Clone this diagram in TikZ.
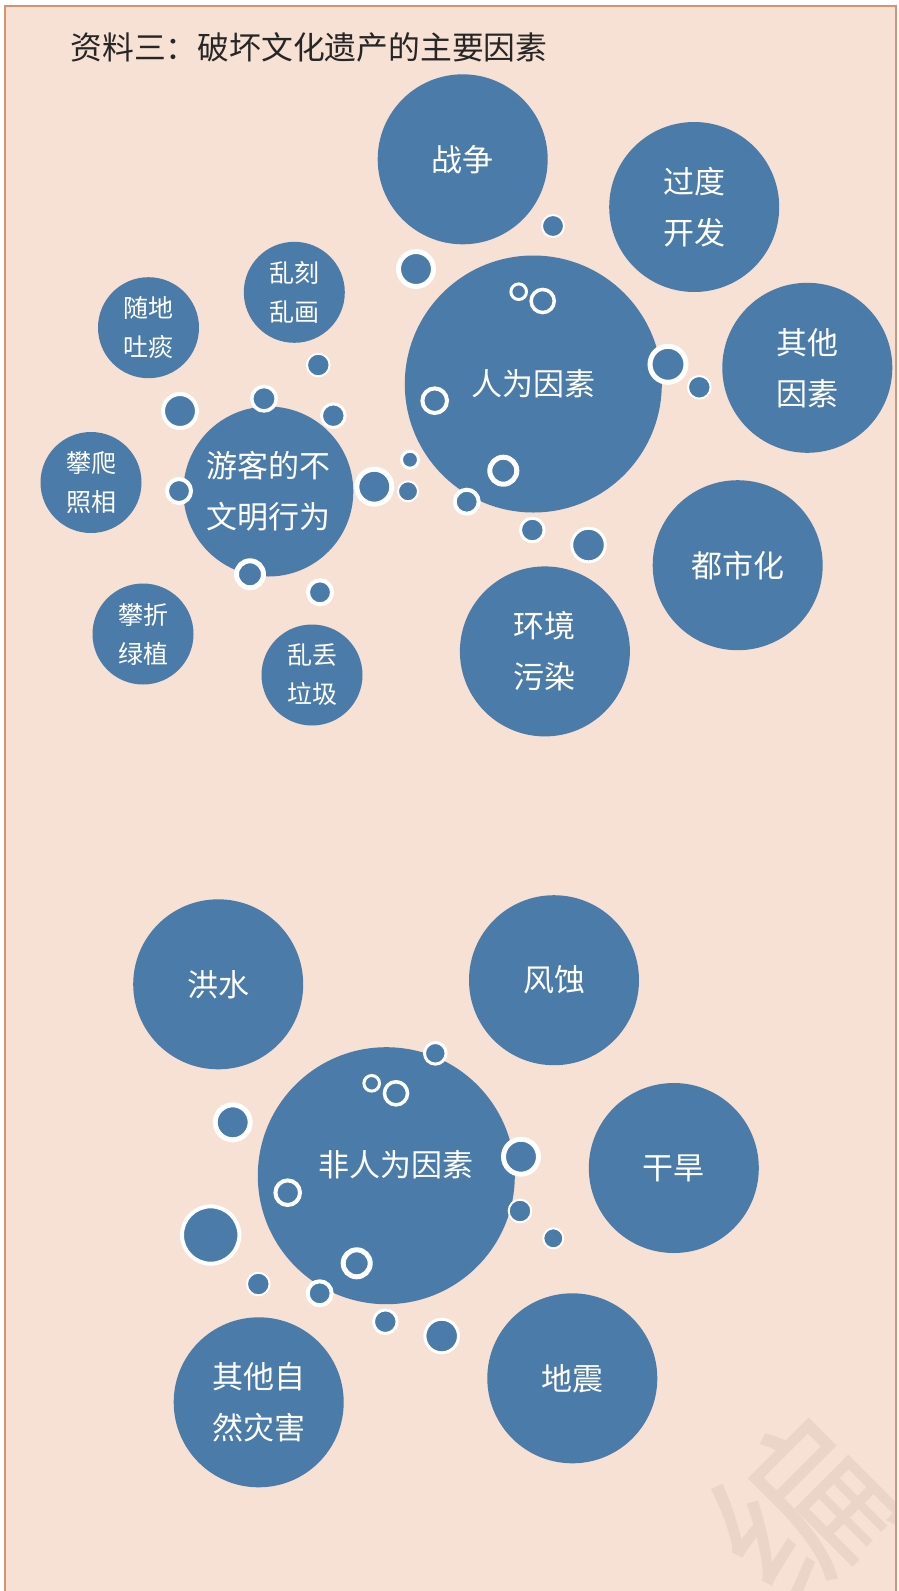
\documentclass[tikz,border=0pt]{standalone}
\usepackage{fontspec}
\newfontfamily\cjk{Noto Sans CJK SC}
\definecolor{bg}{HTML}{F7E0D4}
\definecolor{frame}{HTML}{D9926F}
\definecolor{blu}{HTML}{4B7BA9}
\definecolor{wm}{HTML}{EBD5C8}
\tikzset{
  bigc/.style={circle, fill=blu, inner sep=0pt, minimum size=170pt, text=white, align=center, font=\cjk\fontsize{31}{51}\selectfont},
  medc/.style={bigc, minimum size=257pt},
  smc/.style={circle, fill=blu, inner sep=0pt, minimum size=101pt, text=white, align=center, font=\cjk\fontsize{25}{39}\selectfont},
  bub/.style={circle, fill=blu, draw=white, inner sep=0pt},
  lbl/.style={text=white, align=center, font=\cjk\fontsize{31}{51}\selectfont}
}
\begin{document}
\begin{tikzpicture}[x=1pt,y=-1pt]
\useasboundingbox (0,0) rectangle (898,1591);
\fill[white] (0,0) rectangle (898,1591);
\fill[bg] (5,6) rectangle (896,1595);
\begin{scope}
\clip (5,6) rectangle (896,1591);
\node[text=wm, rotate=45, font=\cjk\fontsize{170}{170}\selectfont] (wmk) at (800,1510) {编};
\end{scope}
\draw[frame, line width=1.3pt] (5,1595) -- (5,6) -- (896,6) -- (896,1595);
\node[anchor=west, text=black!85, font=\cjk\fontsize{31.8}{31.8}\selectfont] (title) at (67,47.5) {资料三：破坏文化遗产的主要因素};

% top group
\node[bigc] (zz) at (462.7,159.3) {战争};
\node[bigc] (gd) at (694.2,207) {过度\\开发};
\node[medc] (rw) at (533.3,384) {人为因素};
\node[bigc] (qt) at (807.3,367.8) {其他\\因素};
\node[bigc] (ds) at (737.7,565.2) {都市化};
\node[bigc] (hj) at (544.9,651.4) {环境\\污染};
\node[bigc] (yk) at (268.3,491.5) {游客的不\\文明行为};
\node[smc] (lk) at (294.3,292.3) {乱刻\\乱画};
\node[smc] (sd) at (148.5,327.7) {随地\\吐痰};
\node[smc] (pp) at (91,482.5) {攀爬\\照相};
\node[smc] (pz) at (143,634) {攀折\\绿植};
\node[smc] (ld) at (312,675) {乱丢\\垃圾};

% bottom group
\node[bigc] (hs) at (218.2,984.3) {洪水};
\node[bigc] (fs) at (554,980.2) {风蚀};
\node[medc] (fr) at (386.3,1175.7) {};
\node[lbl] (frl) at (395.5,1165) {非人为因素};
\node[bigc] (gh) at (673.8,1168) {干旱};
\node[bigc] (qz) at (258.7,1402.3) {其他自\\然灾害};
\node[bigc] (dz) at (572.3,1378.3) {地震};

% small bubbles, top
\node[bub, line width=2pt, minimum size=22pt] (b1) at (553,226) {};
\node[bub, line width=5pt, minimum size=35pt] (b2) at (416,269) {};
\node[bub, line width=3pt, minimum size=15.6pt] (b3) at (518.7,291.7) {};
\node[bub, line width=3.5pt, minimum size=23.1pt] (b4) at (542.7,301) {};
\node[bub, line width=4pt, minimum size=24.6pt] (b5) at (434.7,400.7) {};
\node[bub, line width=5pt, minimum size=36pt] (b6) at (668,364.3) {};
\node[bub, line width=2pt, minimum size=22.6pt] (b7) at (699.3,387.3) {};
\node[bub, line width=5pt, minimum size=27pt] (b8) at (503.3,470.7) {};
\node[bub, line width=4pt, minimum size=24pt] (b9) at (466.7,501.7) {};
\node[bub, line width=3pt, minimum size=23.6pt] (b10) at (532.3,530) {};
\node[bub, line width=3pt, minimum size=33.6pt] (b11) at (588.5,545) {};
\node[bub, line width=3pt, minimum size=17pt] (b12) at (410,459.7) {};
\node[bub, line width=2pt, minimum size=20pt] (b13) at (408,491.3) {};
\node[bub, line width=5pt, minimum size=35pt] (b14) at (374.3,486.7) {};
\node[bub, line width=2pt, minimum size=22.6pt] (b15) at (318.3,365) {};
\node[bub, line width=3.5pt, minimum size=24.5pt] (b16) at (264,398.7) {};
\node[bub, line width=3pt, minimum size=23.6pt] (b17) at (333.3,415.7) {};
\node[bub, line width=4pt, minimum size=34pt] (b18) at (180,411) {};
\node[bub, line width=4pt, minimum size=24pt] (b19) at (179,491) {};
\node[bub, line width=5pt, minimum size=27pt] (b20) at (250,574.3) {};
\node[bub, line width=4pt, minimum size=24pt] (b21) at (320,592.3) {};

% small bubbles, bottom
\node[bub, line width=3pt, minimum size=21.6pt] (c1) at (435.3,1053.3) {};
\node[bub, line width=3pt, minimum size=15.6pt] (c2) at (371.7,1083.3) {};
\node[bub, line width=3.5pt, minimum size=23.1pt] (c3) at (396,1093.3) {};
\node[bub, line width=5pt, minimum size=35pt] (c4) at (232.7,1122.3) {};
\node[bub, line width=5pt, minimum size=35pt] (c5) at (521,1156.7) {};
\node[bub, line width=4pt, minimum size=24.6pt] (c6) at (287.7,1192.7) {};
\node[bub, line width=2pt, minimum size=22.6pt] (c7) at (520,1211) {};
\node[bub, line width=2pt, minimum size=20pt] (c8) at (553.3,1238.3) {};
\node[bub, line width=4pt, minimum size=57.4pt] (c9) at (210.7,1235) {};
\node[bub, line width=5pt, minimum size=27pt] (c10) at (356.7,1263.3) {};
\node[bub, line width=2pt, minimum size=22.6pt] (c11) at (258.3,1284) {};
\node[bub, line width=4pt, minimum size=24pt] (c12) at (319.7,1293.3) {};
\node[bub, line width=3pt, minimum size=23.6pt] (c13) at (385.3,1321.7) {};
\node[bub, line width=3pt, minimum size=33.6pt] (c14) at (441.7,1336) {};
\end{tikzpicture}
\end{document}
